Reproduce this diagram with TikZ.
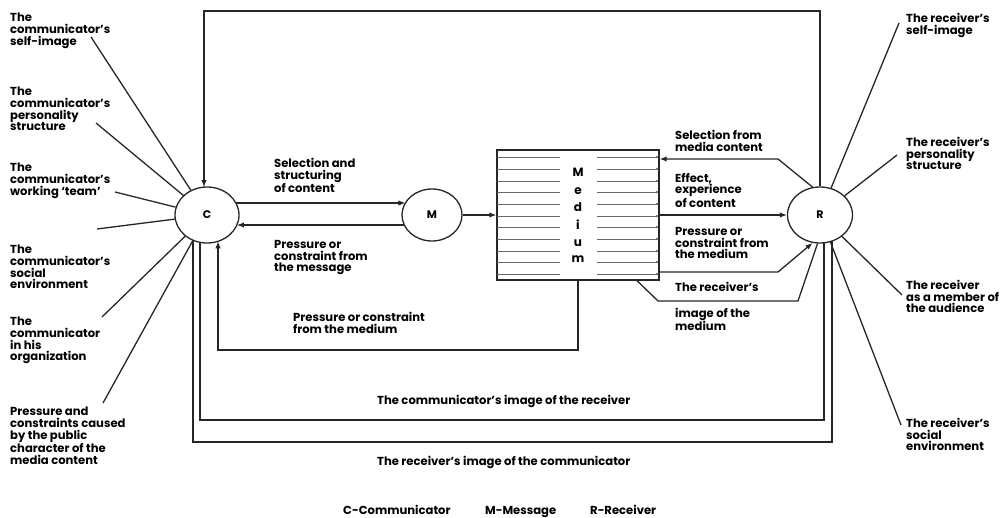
\documentclass[tikz,border=0pt]{standalone}
\usepackage{fontspec}
\setmainfont{Poppins}
\usetikzlibrary{shapes.geometric,arrows.meta,calc}
\begin{document}
\begin{tikzpicture}[x=1pt,y=-1pt,
  wire/.style={line width=1.3pt, black!85},
  arr/.style={wire,-{Latex[length=7pt,width=5.5pt]}},
  thin/.style={line width=0.9pt, black!60},
  tinyarr/.style={thin,-{Latex[length=2.6pt,width=2.6pt]}},
  party/.style={ellipse, draw, line width=1.3pt, black!85, text=black, inner sep=0pt,
    font=\bfseries\fontsize{11}{12}\selectfont},
  lbl/.style={anchor=north west, align=left, inner sep=0pt,
    font=\bfseries\fontsize{11.6}{11.7}\selectfont},
  letter/.style={inner sep=0pt, font=\bfseries\fontsize{12}{12}\selectfont}
]
\useasboundingbox (0,0) rectangle (1001,517);

% the three parties and the medium
\node[party, minimum width=64pt, minimum height=56pt] (C) at (207,215) {C};
\node[party, minimum width=60pt, minimum height=52pt] (M) at (432,215) {M};
\node[party, minimum width=65pt, minimum height=56pt] (R) at (820,215) {R};
\node[draw, wire, minimum width=162pt, minimum height=130pt, inner sep=0pt] (Med) at (578,215) {};

% hatching inside the medium box
\foreach \y in {157,169,181,192,204,216,227,239,251,262,274} {
  \draw[thin] (497,\y) -- (560,\y);
  \draw[tinyarr] (597,\y) -- (659,\y);
}
\foreach \l/\y [count=\k] in {M/172,e/191,d/207,i/225,u/243,m/259}
  \node[letter] (ml\k) at (578,\y) {\l};

% C <-> M, M -> medium -> R
\draw[arr] ([shift={(28.9,-12)}]C.center) -- ([shift={(-26.6,-12)}]M.center);
\draw[arr] ([shift={(-27.7,10)}]M.center) -- ([shift={(29.9,10)}]C.center);
\draw[arr] (M.east) -- (Med.west);
\draw[arr] (Med.east) -- (R.west);

% feedback from R over the top to C
\draw[arr] (R.north) -- (R.north |- 0,11) -- (204,11) -- ([shift={(-3,-27.9)}]C.center);

% selection from media content
\coordinate (s1) at (778,159);
\draw[arr] (R.105) -- (s1) -- (s1 -| Med.east);

% pressure from the medium on R
\coordinate (p1) at (778,272);
\draw[arr] (p1 -| Med.east) -- (p1) -- (R.255);

% the receiver's image of the medium
\coordinate (q0) at (637,280);
\coordinate (q1) at (658,301);
\coordinate (q2) at (798,301);
\draw[wire] (q0 |- Med.south) -- (q1) -- (q2) -- (R.265);

% pressure from the medium on C
\coordinate (m1) at (578,350);
\coordinate (m2) at (218,350);
\draw[arr] (Med.south) -- (m1) -- (m2) -- ([shift={(11,26.3)}]C.center);

% the two image loops under the diagram
\coordinate (k1) at (200,420);
\coordinate (k2) at (824,420);
\draw[wire] ([shift={(-7,27.3)}]C.center) -- (k1) -- (k2) -- ([shift={(4,27.8)}]R.center);
\coordinate (j1) at (193,442);
\coordinate (j2) at (832,442);
\draw[wire] ([shift={(-14,25.2)}]C.center) -- (j1) -- (j2) -- ([shift={(12,26)}]R.center);

% spokes around C
\coordinate (a1) at (91,37);
\coordinate (a2) at (96,123);
\coordinate (a3) at (115,192);
\coordinate (a4) at (97,229);
\coordinate (a5) at (102,317);
\coordinate (a6) at (103,403);
\foreach \i in {1,...,6} \draw[wire] (a\i) -- (C);

% spokes around R
\coordinate (b1) at (899,23);
\coordinate (b2) at (897,155);
\coordinate (b3) at (902,295);
\coordinate (b4) at (901,425);
\foreach \i in {1,...,4} \draw[wire] (b\i) -- (R);

% labels on the left
\node[lbl] (la1) at (10,13) {The\\communicator’s\\self-image};
\node[lbl] (la2) at (10,87) {The\\communicator’s\\personality\\structure};
\node[lbl] (la3) at (10,163) {The\\communicator’s\\working ‘team’};
\node[lbl] (la4) at (10,245) {The\\communicator’s\\social\\environment};
\node[lbl] (la5) at (10,317) {The\\communicator\\in his\\organization};
\node[lbl] (la6) at (10,407) {Pressure and\\constraints caused\\by the public\\character of the\\media content};

% labels on the right
\node[lbl] (lb1) at (906,13) {The receiver’s\\self-image};
\node[lbl] (lb2) at (906,137) {The receiver’s\\personality\\structure};
\node[lbl] (lb3) at (906,280) {The receiver\\as a member of\\the audience};
\node[lbl] (lb4) at (906,418) {The receiver’s\\social\\environment};

% labels on the flows
\node[lbl] (f1) at (274,158) {Selection and\\structuring\\of content};
\node[lbl] (f2) at (274,240) {Pressure or\\constraint from\\the message};
\node[lbl] (f3) at (293,312) {Pressure or constraint\\from the medium};
\node[lbl] (f4) at (675,130) {Selection from\\media content};
\node[lbl] (f5) at (675,173) {Effect,\\experience\\of content};
\node[lbl] (f6) at (675,227) {Pressure or\\constraint from\\the medium};
\node[lbl] (f7) at (675,282) {The receiver’s};
\node[lbl] (f8) at (675,308) {image of the\\medium};
\node[lbl, anchor=base west] (f9) at (377,404) {The communicator’s image of the receiver};
\node[lbl, anchor=base west] (f10) at (377,465) {The receiver’s image of the communicator};

% key
\node[lbl, anchor=base west] (key1) at (343,514) {C-Communicator};
\node[lbl, anchor=base west] (key2) at (485,514) {M-Message};
\node[lbl, anchor=base west] (key3) at (590,514) {R-Receiver};
\end{tikzpicture}
\end{document}
